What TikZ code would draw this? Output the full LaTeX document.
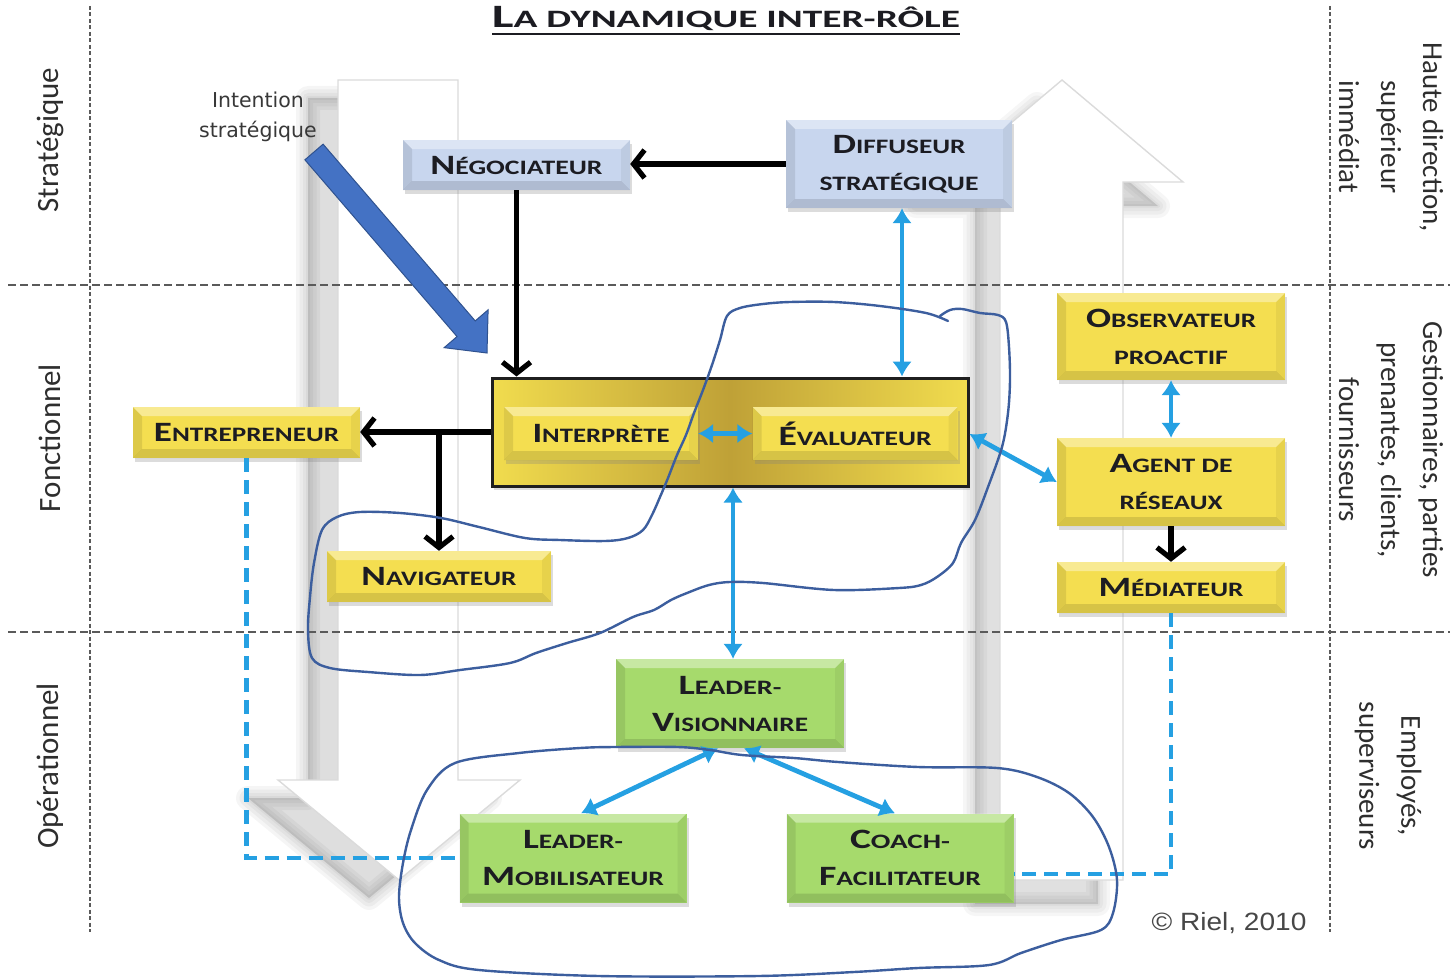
\documentclass[tikz,border=0pt]{standalone}
\usepackage{fontspec}
\setmainfont{Carlito}
\newfontfamily\dvs{DejaVu Sans}
\newfontfamily\lsans{Liberation Sans}
\usepackage{graphicx}
\usetikzlibrary{arrows.meta,shadows,calc}

\definecolor{txt}{HTML}{1C1C22}
\definecolor{yelF}{HTML}{F4DE50}
\definecolor{bluF}{HTML}{C8D6EE}
\definecolor{grnF}{HTML}{A6DA6C}
\definecolor{coreL}{HTML}{F1DC4E}
\definecolor{coreM}{HTML}{BFA137}
\definecolor{conn}{HTML}{25A0E2}
\definecolor{hand}{HTML}{3C5E9E}
\definecolor{intf}{HTML}{4472C4}
\definecolor{intd}{HTML}{2F528F}
\definecolor{sep}{HTML}{5A5A5A}

\newcommand\Sm[1]{{\fontsize{20.5}{24}\selectfont #1}}
\newcommand\Ln[2]{\resizebox{#1pt}{\height}{#2}}
\newcommand\dnarr[1]{\path[#1] (338,80) -- (458,80) -- (458,780) -- (520,780) -- (399,880) -- (278,780) -- (338,780) -- cycle;}
\newcommand\uparr[1]{\path[#1] (1062,80) -- (1183,182) -- (1123,182) -- (1123,880) -- (1000,880) -- (1000,182) -- (941,182) -- cycle;}

\begin{document}
\begin{tikzpicture}[x=1pt,y=-1pt,
  bevel/.style={path picture={
    \fill[white,opacity=.38] (path picture bounding box.north west) -- (path picture bounding box.north east)
      -- ([xshift=-9pt,yshift=-9pt]path picture bounding box.north east) -- ([xshift=9pt,yshift=-9pt]path picture bounding box.north west) -- cycle;
    \fill[black,opacity=.09] (path picture bounding box.north west) -- (path picture bounding box.south west)
      -- ([xshift=9pt,yshift=9pt]path picture bounding box.south west) -- ([xshift=9pt,yshift=-9pt]path picture bounding box.north west) -- cycle;
    \fill[black,opacity=.05] (path picture bounding box.north east) -- (path picture bounding box.south east)
      -- ([xshift=-9pt,yshift=9pt]path picture bounding box.south east) -- ([xshift=-9pt,yshift=-9pt]path picture bounding box.north east) -- cycle;
    \fill[black,opacity=.12] (path picture bounding box.south west) -- (path picture bounding box.south east)
      -- ([xshift=-9pt,yshift=9pt]path picture bounding box.south east) -- ([xshift=9pt,yshift=9pt]path picture bounding box.south west) -- cycle;
  }},
  rolebox/.style={inner sep=0pt, align=center, font=\fontsize{28}{37}\selectfont\bfseries, text=txt,
    drop shadow={shadow xshift=2pt, shadow yshift=-4pt, opacity=0.28}},
  yelbox/.style={rolebox, fill=yelF, bevel},
  blubox/.style={rolebox, fill=bluF, bevel},
  grnbox/.style={rolebox, fill=grnF, bevel},
  blk/.style={draw=black, line width=5.2pt, -{Straight Barb[length=11pt,width=28pt]}},
  blu/.style={draw=conn, line width=4.8pt, {Latex[length=15pt,width=20pt]}-{Latex[length=15pt,width=20pt]}},
  dsh/.style={draw=conn, line width=4.5pt, dash pattern=on 14pt off 8pt},
  sepline/.style={draw=sep, line width=1.8pt, dash pattern=on 8pt off 4pt},
  sepv/.style={draw=sep, line width=1.8pt, dash pattern=on 4pt off 2.5pt},
  sidelab/.style={font=\fontsize{31}{42}\selectfont, text=black!82, inner sep=0pt},
  rightlab/.style={font=\fontsize{29}{42}\selectfont, text=black!82, inner sep=0pt, align=center, rotate=-90},
  handline/.style={draw=hand, line width=2.4pt, line join=round, line cap=round},
  bgshadow/.style={black, line join=round},
  bgarrow/.style={fill=white, draw=black!14, line width=1.4pt},
]
\useasboundingbox (0,0) rectangle (1450,979);

% ---------- background arrows with soft shadows ----------
\foreach \w in {24,17,10,4}{
  \dnarr{draw, bgshadow, line width=\w pt, opacity=0.04, shift={(-30,18)}}
  \uparr{draw, bgshadow, line width=\w pt, opacity=0.035, shift={(-25,24)}}
}
\dnarr{fill, bgshadow, opacity=0.13, shift={(-30,18)}}
\uparr{fill, bgshadow, opacity=0.12, shift={(-25,24)}}
\dnarr{bgarrow}
\uparr{bgarrow}

% ---------- separators ----------
\draw[sepv] (90,6) -- (90,932);
\draw[sepv] (1330,6) -- (1330,932);
\draw[sepline] (8,285) -- (1450,285);
\draw[sepline] (8,632) -- (1450,632);

% ---------- title ----------
\node[inner sep=0pt, text=txt, font=\fontsize{32.6}{38}\selectfont\bfseries] (title) at (726,19)
  {\resizebox{468pt}{\height}{L{\fontsize{25}{30}\selectfont A DYNAMIQUE INTER-RÔLE}}};
\draw[line width=2.8pt, txt] (492,34) -- (960,34);

% ---------- side labels ----------
\node[sidelab, rotate=90] (lstr) at (50,140) {Stratégique};
\node[sidelab, rotate=90] (lfon) at (50,438) {Fonctionnel};
\node[sidelab, rotate=90] (lope) at (50,766) {Opérationnel};
\node[rightlab] (rhaut) at (1391,137) {Haute direction,\\supérieur\\immédiat};
\node[rightlab] (rgest) at (1391,450) {Gestionnaires, parties\\prenantes, clients,\\fournisseurs};
\node[rightlab] (remp) at (1388,776) {Employés,\\superviseurs};

% ---------- intention ----------
\node[font=\dvs\fontsize{20.5}{30}\selectfont, text=black!78, align=center, inner sep=0pt] (intent) at (258,117) {Intention\\stratégique};
\coordinate (iT) at (314,152);
\coordinate (iH) at (487,353);
\coordinate (iB) at ($(iH)!32pt!(iT)$);
\draw[fill=intf, draw=intd, line width=1pt, line join=miter]
  ($(iT)!12pt!90:(iH)$) -- ($(iB)!12pt!90:(iH)$) -- ($(iB)!29pt!90:(iH)$) -- (iH)
  -- ($(iB)!29pt!-90:(iH)$) -- ($(iB)!12pt!-90:(iH)$) -- ($(iT)!12pt!-90:(iH)$) -- cycle;

% ---------- role boxes ----------
\node[blubox, minimum width=227pt, minimum height=50pt] (neg) at (516.5,165) {\Ln{172}{N\Sm{ÉGOCIATEUR}}};
\node[blubox, minimum width=226pt, minimum height=88pt] (dif) at (899,164) {\Ln{133}{D\Sm{IFFUSEUR}}\\\Ln{159}{\Sm{STRATÉGIQUE}}};

\node[rolebox, minimum width=476pt, minimum height=108pt, left color=coreL, right color=coreL, middle color=coreM,
      draw=black!88, line width=3pt] (core) at (730,432) {};
\node[yelbox, minimum width=194pt, minimum height=53pt] (int) at (601,433.5) {\Ln{137}{I\Sm{NTERPRÈTE}}};
\node[yelbox, minimum width=205pt, minimum height=53pt] (eva) at (855,433.5) {\Ln{153}{É\Sm{VALUATEUR}}};

\node[yelbox, minimum width=227pt, minimum height=51pt] (ent) at (246.5,432.5) {\Ln{185}{E\Sm{NTREPRENEUR}}};
\node[yelbox, minimum width=224pt, minimum height=51pt] (nav) at (439,576.5) {\Ln{155}{N\Sm{AVIGATEUR}}};

\node[yelbox, minimum width=228pt, minimum height=87pt] (obs) at (1171,336.5) {\Ln{170}{O\Sm{BSERVATEUR}}\\\Ln{114}{\Sm{PROACTIF}}};
\node[yelbox, minimum width=228pt, minimum height=88pt] (agt) at (1171,482) {\Ln{123}{A\Sm{GENT DE}}\\\Ln{103}{\Sm{RÉSEAUX}}};
\node[yelbox, minimum width=228pt, minimum height=51pt] (med) at (1171,587.5) {\Ln{145}{M\Sm{ÉDIATEUR}}};

\node[grnbox, minimum width=228pt, minimum height=89pt] (lv) at (730,703.5) {\Ln{103}{L\Sm{EADER-}}\\\Ln{156}{V\Sm{ISIONNAIRE}}};
\node[grnbox, minimum width=227pt, minimum height=89pt] (lm) at (573,858) {\Ln{100}{L\Sm{EADER-}}\\\Ln{182}{M\Sm{OBILISATEUR}}};
\node[grnbox, minimum width=227pt, minimum height=89pt] (cf) at (900,858) {\Ln{100}{C\Sm{OACH-}}\\\Ln{162}{F\Sm{ACILITATEUR}}};

% ---------- connectors ----------
\draw[blk] (dif.west) -- (dif.west -| neg.east);
\draw[blk] (neg.south) -- (neg.south |- core.north);
\draw[blk] (core.west) -- (core.west -| ent.east);
\coordinate (br) at (nav.north |- core.west);
\draw[blk] (br) -- (nav.north);
\draw[blk] (agt.south) -- (med.north);

\draw[blu] ([xshift=3pt]dif.south) -- ([xshift=3pt]dif.south |- core.north);
\draw[blu] (int.east) -- (eva.west);
\draw[blu] ([xshift=3pt]lv.north |- core.south) -- ([xshift=3pt]lv.north);
\draw[blu] ([yshift=-2pt]core.east) -- (agt.west);
\draw[blu] (obs.south) -- (agt.north);
\draw[blu] ([xshift=-12pt]lv.south) -- ([xshift=8pt]lm.north);
\draw[blu] ([xshift=14pt]lv.south) -- ([xshift=-5pt]cf.north);

\draw[dsh] (ent.south) |- (lm.west);
\draw[dsh] (med.south) |- ([yshift=-16pt]cf.east);

% ---------- copyright ----------
\node[font=\lsans\fontsize{25}{30}\selectfont, text=black!72, inner sep=0pt] (riel) at (1229,923) {\resizebox{155pt}{\height}{© Riel, 2010}};

% ---------- hand-drawn annotations ----------
\draw[handline] plot[smooth, tension=0.55] coordinates {
 (948,321) (926,313) (880,306) (834,302) (790,302) (763,304) (740,308) (727,316) (720,340) (712,365)
 (703,390) (694,413) (686,435) (677,455) (668,478) (660,497) (652,515) (643,530) (628,538) (605,541)
 (560,540) (525,538) (479,527) (441,518) (400,513) (360,512) (337,517) (322,530) (314,563) (310,597)
 (308,630) (312,658) (330,668) (368,672) (420,675) (460,670) (510,663) (536,653) (567,643) (600,633)
 (633,617) (654,610) (671,600) (687,593) (709,585) (730,582) (763,583) (834,590) (899,588) (921,585)
 (937,577) (953,563) (961,543) (975,520) (988,487) (1002,447) (1008,413) (1010,380) (1009,347) (1006,322)
 (998,315) (980,313) (962,309) (950,310) (940,316)};
\draw[handline] plot[smooth cycle, tension=0.55] coordinates {
 (455,763) (519,753) (580,748) (615,747) (678,747) (710,750) (742,755) (794,758) (838,762) (918,767)
 (997,768) (1037,777) (1069,793) (1093,817) (1109,847) (1117,880) (1113,913) (1101,930) (1061,940)
 (1021,953) (989,965) (918,968) (854,972) (758,976) (599,976) (479,970) (439,960) (415,943) (403,923)
 (399,897) (403,863) (411,830) (427,790)};
\end{tikzpicture}
\end{document}
